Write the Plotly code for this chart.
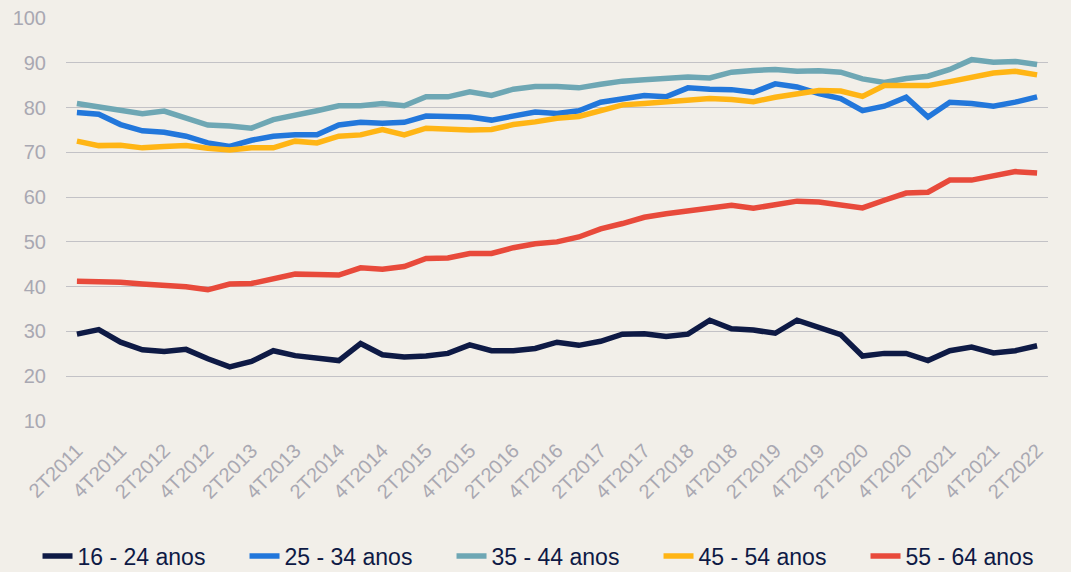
import plotly.graph_objects as go

quarters = [
    "2T2011", "3T2011", "4T2011",
    "1T2012", "2T2012", "3T2012", "4T2012",
    "1T2013", "2T2013", "3T2013", "4T2013",
    "1T2014", "2T2014", "3T2014", "4T2014",
    "1T2015", "2T2015", "3T2015", "4T2015",
    "1T2016", "2T2016", "3T2016", "4T2016",
    "1T2017", "2T2017", "3T2017", "4T2017",
    "1T2018", "2T2018", "3T2018", "4T2018",
    "1T2019", "2T2019", "3T2019", "4T2019",
    "1T2020", "2T2020", "3T2020", "4T2020",
    "1T2021", "2T2021", "3T2021", "4T2021",
    "1T2022", "2T2022",
]

age_16_24 = [29.4, 30.4, 27.6, 25.9, 25.5, 26.0, 23.9, 22.1, 23.3, 25.7,
             24.6, 23.9, 23.5, 27.3, 24.8, 24.3, 24.5, 25.1, 27.0, 25.7,
             25.7, 26.2, 27.6, 26.9, 27.8, 29.4, 29.5, 28.9, 29.4, 32.5,
             30.6, 30.3, 29.6, 32.5, 31.0, 29.3, 24.5, 25.1, 25.1, 23.5,
             25.7, 26.5, 25.2, 25.7, 26.8]

age_25_34 = [78.9, 78.5, 76.2, 74.8, 74.5, 73.6, 72.1, 71.3, 72.7, 73.6,
             73.9, 73.9, 76.1, 76.7, 76.5, 76.7, 78.1, 78.1, 77.9, 77.2,
             78.0, 79.0, 78.7, 79.3, 81.2, 82.1, 82.7, 82.4, 84.4, 84.1,
             84.0, 83.4, 85.3, 84.6, 83.1, 82.0, 79.3, 80.3, 82.3, 77.9,
             81.2, 80.9, 80.3, 81.2, 82.4]

age_35_44 = [80.9, 80.1, 79.5, 78.6, 79.2, 77.7, 76.1, 75.9, 75.4, 77.3,
             78.2, 79.3, 80.4, 80.4, 80.9, 80.4, 82.4, 82.4, 83.5, 82.7,
             84.1, 84.7, 84.7, 84.4, 85.2, 85.9, 86.2, 86.4, 86.8, 86.6,
             87.9, 88.3, 88.5, 88.1, 88.2, 87.9, 86.4, 85.6, 86.5, 87.0,
             88.5, 90.7, 90.1, 90.3, 89.6]

age_45_54 = [72.5, 71.5, 71.6, 71.0, 71.3, 71.5, 70.9, 70.5, 71.0, 71.0,
             72.5, 72.1, 73.6, 73.9, 75.1, 73.9, 75.4, 75.1, 75.0, 75.1,
             76.2, 76.8, 77.6, 78.0, 79.3, 80.6, 80.9, 81.2, 81.8, 82.0,
             81.8, 81.3, 82.3, 83.0, 83.8, 83.7, 82.5, 84.9, 84.9, 84.9,
             85.8, 86.8, 87.7, 88.1, 87.3]

age_55_64 = [41.2, 41.2, 41.0, 40.6, 40.4, 40.0, 39.3, 40.6, 40.7, 41.7,
             42.8, 42.7, 42.6, 44.2, 43.9, 44.5, 46.3, 46.4, 47.4, 47.4,
             48.7, 49.6, 50.0, 51.1, 52.9, 54.1, 55.5, 56.3, 57.0, 57.4,
             58.2, 57.5, 58.4, 59.1, 58.9, 58.4, 57.6, 59.3, 60.9, 61.1,
             63.8, 63.8, 64.8, 65.7, 65.4]

series_names = ["16 - 24 anos", "25 - 34 anos", "35 - 44 anos", "45 - 54 anos", "55 - 64 anos"]
series_values = [age_16_24, age_25_34, age_35_44, age_45_54, age_55_64]
colors = ["#0e1a45", "#2277db", "#6ea7b4", "#ffb515", "#e84a3b"]

y_ticks = [10, 20, 30, 40, 50, 60, 70, 80, 90, 100]
x_ticks = quarters[::2]

fig = go.Figure()
for name, vals, col in zip(series_names, series_values, colors):
    fig.add_trace(go.Scatter(
        x=quarters, y=vals, name=name, mode="lines",
        line=dict(color=col, width=5.5),
    ))

bg = "#f2efe9"
grid = "#c3c2c6"
tick_col = "#a9a8b2"

fig.update_layout(
    width=1071, height=572,
    paper_bgcolor=bg, plot_bgcolor=bg,
    margin=dict(l=66, r=23, t=18, b=151, autoexpand=False),
    font=dict(family="Liberation Sans, Arial, sans-serif"),
    showlegend=True,
    legend=dict(
        orientation="h", x=-0.029, xanchor="left",
        y=-0.335, yanchor="middle",
        font=dict(size=23, color="#0e1a45"),
        entrywidth=162, entrywidthmode="pixels",
        itemwidth=30, tracegroupgap=0,
        bgcolor="rgba(0,0,0,0)",
    ),
    xaxis=dict(
        type="category", categoryorder="array", categoryarray=quarters,
        tickmode="array", tickvals=x_ticks, ticktext=x_ticks,
        tickangle=-45, tickfont=dict(size=20, color=tick_col),
        showgrid=False, zeroline=False, showline=False,
        ticks="outside", ticklen=7, tickcolor="rgba(0,0,0,0)",
        range=[-0.5, len(quarters) - 0.5], automargin=False,
        ticklabelstandoff=2,
    ),
    yaxis=dict(
        range=[10, 100], tickmode="array", tickvals=y_ticks,
        tickfont=dict(size=20, color=tick_col),
        showgrid=True, gridcolor=grid, gridwidth=1,
        zeroline=False, showline=False, ticks="", ticklabelstandoff=19,
        automargin=False,
    ),
)

fig.write_html(
    "out.html",
    config={"displayModeBar": False},
    post_script="document.body.style.margin='0';document.body.style.background='%s';" % bg,
)
